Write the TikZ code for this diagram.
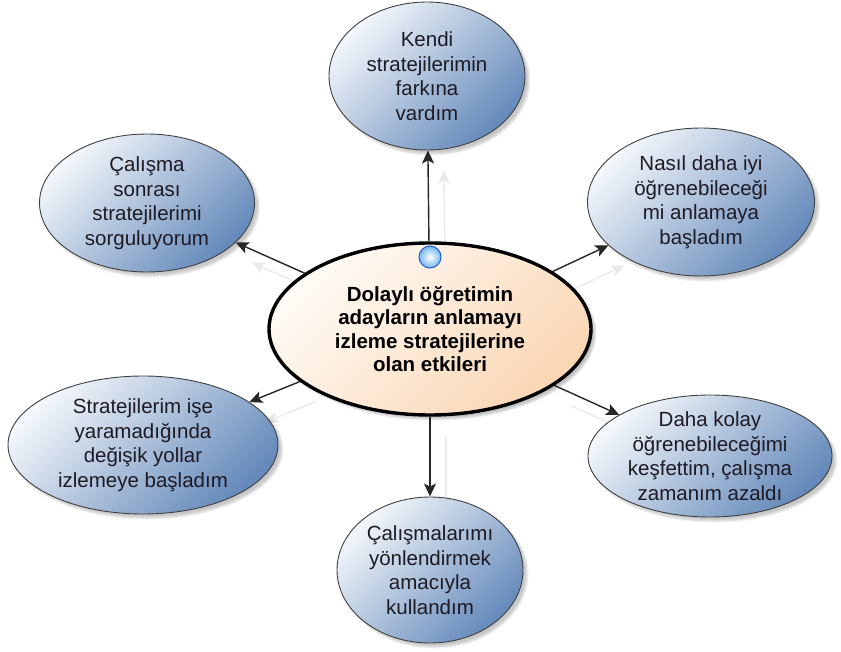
\documentclass[tikz,border=0pt]{standalone}
\usepackage{fontspec}
\setmainfont{Liberation Sans}
\usetikzlibrary{arrows.meta,shapes.geometric,shadows.blur}
\pgfdeclarelayer{bg}
\pgfsetlayers{bg,main}
\definecolor{bluedark}{HTML}{6489BA}
\definecolor{bluelight}{HTML}{F4F7FB}
\definecolor{peach}{HTML}{FAD6B4}
\definecolor{peachlight}{HTML}{FFFBF6}
\definecolor{ballblue}{HTML}{9ADCFF}
\definecolor{balledge}{HTML}{1F5FD0}
\definecolor{txt}{HTML}{1E1A24}
\begin{document}
\begin{tikzpicture}[x=1pt,y=-1pt,
  outer/.style={ellipse, draw=black!75, line width=0.9pt, shading=axis,
    top color=bluelight, bottom color=bluedark, shading angle=45,
    inner sep=0pt, align=center, text=txt,
    font=\fontsize{20.5}{24.5}\selectfont,
    blur shadow={shadow xshift=4pt, shadow yshift=-4pt, shadow opacity=22, shadow blur steps=6}},
  hub/.style={ellipse, draw=black, line width=3.4pt, shading=axis,
    top color=peachlight, bottom color=peach, shading angle=45,
    inner sep=0pt, align=center, text=black,
    font=\bfseries\fontsize{20.5}{23.5}\selectfont,
    blur shadow={shadow xshift=4pt, shadow yshift=-4pt, shadow opacity=25, shadow blur steps=6}},
  arr/.style={draw=black!85, line width=1.4pt, -{Stealth[length=13pt,width=12pt,inset=3pt]}},
  ghost/.style={draw=black!8, line width=1.4pt, -{Stealth[length=13pt,width=12pt,inset=3pt]}},
  knob/.style={circle, minimum size=22pt, inner sep=0pt, inner color=white, outer color=ballblue!70!balledge, draw=balledge, line width=1pt}
]
\useasboundingbox (0,0) rectangle (841,652);

\node[hub, minimum width=322pt, minimum height=172pt] (c) at (430,329)
  {Dolaylı öğretimin\\adayların anlamayı\\izleme stratejilerine\\olan etkileri};
\node[knob] (ball) at (430,257) {};

\node[outer, minimum width=196pt, minimum height=148pt] (top) at (427,76)
  {Kendi\\stratejilerimin\\farkına\\vardım};
\node[outer, minimum width=215pt, minimum height=138pt] (tl) at (147,203)
  {Çalışma\\sonrası\\stratejilerimi\\sorguluyorum};
\node[outer, minimum width=227pt, minimum height=148pt] (tr) at (701,202)
  {Nasıl daha iyi\\öğrenebileceği\\mi anlamaya\\başladım};
\node[outer, minimum width=270pt, minimum height=138pt] (bl) at (143,445)
  {Stratejilerim işe\\yaramadığında\\değişik yollar\\izlemeye başladım};
\node[outer, inner ysep=-7pt, minimum width=244pt, minimum height=122pt] (br) at (710,456)
  {Daha kolay\\öğrenebileceğimi\\keşfettim, çalışma\\zamanım azaldı};
\node[outer, minimum width=186pt, minimum height=146pt] (bot) at (430,570)
  {Çalışmalarımı\\yönlendirmek\\amacıyla\\kullandım};

\begin{pgfonlayer}{bg}
  \begin{scope}[transform canvas={shift={(16,20)}}]
    \draw[ghost] (c) -- (top);
    \draw[ghost] (c) -- (tl);
    \draw[ghost] (c) -- (tr);
    \draw[ghost] (c) -- (bl);
    \draw[ghost] (c) -- (br);
    \draw[ghost] (c) -- (bot);
  \end{scope}
\end{pgfonlayer}

\draw[arr] (c) -- (top);
\draw[arr] (c) -- (tl);
\draw[arr] (c) -- (tr);
\draw[arr] (c) -- (bl);
\draw[arr] (c) -- (br);
\draw[arr] (c) -- (bot);
\end{tikzpicture}
\end{document}
